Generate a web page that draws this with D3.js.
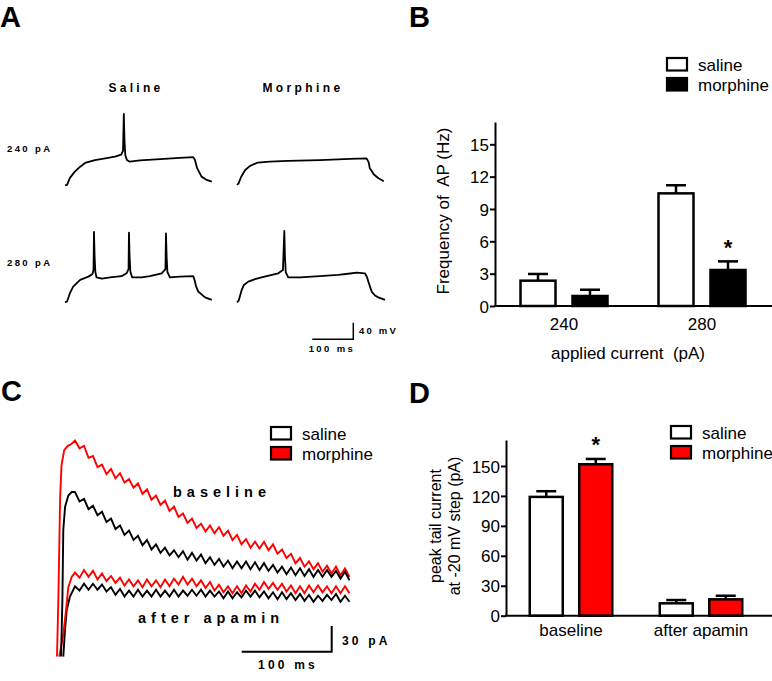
<!DOCTYPE html>
<html>
<head>
<meta charset="utf-8">
<script src="https://cdn.jsdelivr.net/npm/d3@7"></script>
<style>
body { margin: 0; background: #fff; }
text { font-family: "Liberation Sans", Arial, sans-serif; fill: #000; white-space: pre; }
</style>
</head>
<body>
<script>
// ---- panel A : membrane potential traces, [time ms, mV] ----
var sal240 = [[0,-71],[5,-70],[12,-53],[24,-38],[37,-26],[49,-17],[73,-10],[98,-6],[122,-2],[137,3],[141.5,12],[143.5,101],[145,40],[147,2],[151,-10],[158,-14],[183,-11],[232,-8],[280,-5],[313,-3],[317,-10],[322,-29],[333,-50],[344,-57],[358,-62]];
var mor240 = [[0,-70],[4,-66],[10,-51],[20,-34],[32,-24],[51,-16],[80,-14],[124,-12],[202,-10],[276,-7],[316,-6],[321,-15],[324,-30],[334,-45],[345,-54],[358,-61]];
var sal280 = [[0,-71],[5,-69],[12,-49],[20,-33],[37,-17],[57,-9],[67,-3],[69.5,7],[70.7,99],[72.2,40],[74,2],[77,-11],[90,-14],[110,-11],[138,-8],[150,-1],[155,9],[156,97],[157.5,40],[159.5,2],[164,-11],[187,-11],[207,-8],[236,-1],[245,9],[246.3,95],[247.8,40],[249.8,2],[256,-11],[280,-9],[313,-8],[316,-17],[319.5,-32],[325,-45],[341.5,-59],[358,-65]];
var mor280 = [[0,-71],[4,-67],[11.5,-41],[17,-29],[27.6,-21],[44,-15],[60,-11],[80,-6],[100.7,-1],[112,7],[115.4,101],[116.9,40],[118.8,2],[125,-11],[154,-11],[202,-8],[247,-5],[276,-1.5],[292,0.4],[312,-1],[317,-10],[320.7,-22],[328.5,-45],[336.6,-54.5],[344.6,-59],[361,-65]];
var rowsA = ["240 pA", "280 pA"];
var colsA = ["Saline", "Morphine"];

// ---- panel B : AP frequency (Hz) ----
var groupsB = ["240", "280"];
var salineB = [2.35, 10.45];
var salineBerr = [0.62, 0.75];
var morphineB = [0.93, 3.34];
var morphineBerr = [0.58, 0.8];
var ticksB = [0, 3, 6, 9, 12, 15];

// ---- panel C : tail current traces, [time ms, pA] rise then samples every 5 ms ----
var tC = d3.range(20, 326, 5);
var redBaseRise = [[0,-66],[1.5,0],[3.5,120],[5,157],[8,175],[12,180],[16,182]];
var redBase = [186,177,180,166,168,155,158,147,153,142,148,137,141,131,136,124,129,117,122,111,116,104,109,97,101,90,95,84,89,80,87,78,85,75,81,70,76,65,71,61,68,60,68,58,65,54,59,49,54,43,49,39,45,36,43,33,40,31,39,29,37,27];
var blackBaseRise = [[4.5,-66],[6,0],[7,82],[9,109],[12.6,122],[16.3,126]];
var blackBase = [126,115,118,106,110,99,103,91,95,83,87,76,81,70,75,64,70,59,65,55,61,52,58,50,57,47,55,46,53,43,50,41,48,39,46,37,45,37,45,36,44,35,43,34,41,32,39,30,38,29,37,28,36,27,35,27,35,27,34,25,33,23];
var redApaRise = [[2.5,-66],[7,-40],[10,-12],[12.6,15],[16.3,27]];
var redApa = [32,26,35,27,34,24,31,22,28,20,26,17,24,16,23,15,24,16,23,15,24,16,25,18,27,18,25,16,23,14,21,11,18,9,16,8,16,8,17,10,19,12,21,13,20,12,19,10,17,8,16,8,17,9,17,9,16,8,16,8,16,8];
var blackApaRise = [[7,-66],[8.9,-35],[10.8,-12],[14.4,4]];
var blackApa = [16,11,19,12,19,12,18,10,15,6,13,4,11,4,12,4,11,4,12,4,11,4,12,4,11,5,12,5,12,4,11,4,10,2,10,2,9,3,11,4,11,3,10,2,9,1,9,1,8,0,7,-1,6,-2,5,-1,6,0,7,-2,5,-2];

// ---- panel D : peak tail current (pA) ----
var groupsD = ["baseline", "after apamin"];
var salineD = [119, 12.4];
var salineDerr = [5.7, 3.3];
var morphineD = [151.7, 16.4];
var morphineDerr = [5.3, 3.6];
var ticksD = [0, 30, 60, 90, 120, 150];

var svg = d3.select("body").append("svg")
    .attr("width", 772)
    .attr("height", 681);

function label(x, y, s, size, weight, spacing, anchor) {
    return svg.append("text")
        .attr("x", x).attr("y", y)
        .attr("font-size", size)
        .attr("font-weight", weight || "normal")
        .attr("letter-spacing", spacing || 0)
        .attr("text-anchor", anchor || "start")
        .text(s);
}

// panel letters
label(0, 27, "A", 29, "bold");
label(409, 27, "B", 29, "bold");
label(1, 401, "C", 29, "bold");
label(409, 403, "D", 29, "bold");

// ================= A =================
var xA = [d3.scaleLinear().domain([0, 360]).range([65, 212.6]),
          d3.scaleLinear().domain([0, 360]).range([237, 384.6])];
var yA = [d3.scaleLinear().domain([-75, 100]).range([187, 114.4]),
          d3.scaleLinear().domain([-75, 100]).range([304, 231.4])];
var tracesA = [[sal240, mor240], [sal280, mor280]];

tracesA.forEach(function(row, r) {
    row.forEach(function(tr, c) {
        var line = d3.line()
            .x(function(d) { return xA[c](d[0]); })
            .y(function(d) { return yA[r](d[1]); });
        svg.append("path")
            .attr("d", line(tr))
            .attr("fill", "none")
            .attr("stroke", "#000")
            .attr("stroke-width", 1.8)
            .attr("stroke-linejoin", "round");
    });
});
label(136, 92, colsA[0], 12, "bold", 3.3, "middle");
label(303, 92, colsA[1], 12, "bold", 3.4, "middle");
label(7, 152, rowsA[0], 9.5, "bold", 2.4);
label(7, 266, rowsA[1], 9.5, "bold", 2.4);

// scale bar A
var sbAx = 353.3, sbAy = 339.3;
var sbAw = xA[1](100) - xA[1](0), sbAh = yA[1](0) - yA[1](40);
svg.append("path")
    .attr("d", "M" + (sbAx - sbAw) + "," + sbAy + "H" + sbAx + "V" + (sbAy - sbAh))
    .attr("fill", "none").attr("stroke", "#000").attr("stroke-width", 1.5);
label(359, 334, "40 mV", 9.5, "bold", 2.2);
label(332, 352, "100 ms", 9.5, "bold", 2.4, "middle");

// ================= bar chart helper =================
function barChart(o) {
    var g = svg.append("g");
    var x = d3.scalePoint().domain(o.groups).range(o.xr).padding(0.5);
    var inner = d3.scaleBand().domain(["saline", "morphine"])
        .range([-o.half, o.half]).paddingInner(o.pad);
    var y = o.y;
    var series = [
        {key: "saline", vals: o.sal, err: o.salErr, fill: "#fff"},
        {key: "morphine", vals: o.mor, err: o.morErr, fill: o.morFill}
    ];
    series.forEach(function(s) {
        var bars = g.selectAll(null).data(o.groups).enter();
        bars.append("line")
            .attr("x1", function(d) { return x(d) + inner(s.key) + inner.bandwidth() / 2; })
            .attr("x2", function(d) { return x(d) + inner(s.key) + inner.bandwidth() / 2; })
            .attr("y1", function(d, i) { return y(s.vals[i]); })
            .attr("y2", function(d, i) { return y(s.vals[i] + s.err[i]); })
            .attr("stroke", "#000").attr("stroke-width", 2.5);
        bars.append("line")
            .attr("x1", function(d) { return x(d) + inner(s.key) + inner.bandwidth() / 2 - 10; })
            .attr("x2", function(d) { return x(d) + inner(s.key) + inner.bandwidth() / 2 + 10; })
            .attr("y1", function(d, i) { return y(s.vals[i] + s.err[i]); })
            .attr("y2", function(d, i) { return y(s.vals[i] + s.err[i]); })
            .attr("stroke", "#000").attr("stroke-width", 2.5);
        bars.append("rect")
            .attr("x", function(d) { return x(d) + inner(s.key); })
            .attr("width", inner.bandwidth())
            .attr("y", function(d, i) { return y(s.vals[i]); })
            .attr("height", function(d, i) { return y(0) - y(s.vals[i]); })
            .attr("fill", s.fill).attr("stroke", "#000").attr("stroke-width", 2.5);
    });
    var ax = g.append("g")
        .attr("transform", "translate(" + o.x0 + ",0)")
        .call(d3.axisLeft(y).tickValues(o.ticks).tickSize(5).tickSizeOuter(0).tickPadding(1));
    ax.select(".domain").attr("stroke-width", 2);
    ax.selectAll(".tick line").attr("stroke-width", 2);
    ax.selectAll(".tick text").attr("font-size", 17).attr("font-family", "Liberation Sans, Arial, sans-serif").attr("dy", "0.36em");
    g.append("line")
        .attr("x1", o.x0 - 1).attr("x2", 772)
        .attr("y1", y(0)).attr("y2", y(0))
        .attr("stroke", "#000").attr("stroke-width", 2);
    g.selectAll(null).data(o.groups).enter().append("text")
        .attr("x", function(d) { return x(d); })
        .attr("y", o.catY)
        .attr("text-anchor", "middle")
        .attr("font-size", 17)
        .text(function(d) { return d; });
    return {x: x, inner: inner, y: y};
}

function legend(x, y, morFill) {
    [["saline", "#fff"], ["morphine", morFill]].forEach(function(d, i) {
        svg.append("rect")
            .attr("x", x).attr("y", y + i * 20)
            .attr("width", 20).attr("height", 12.5)
            .attr("fill", d[1]).attr("stroke", "#000").attr("stroke-width", 2.2);
        label(x + 31, y + 13 + i * 20, d[0], 17);
    });
}

// ================= B =================
var yB = d3.scaleLinear().domain([0, 17.07]).range([306, 122]);
var B = barChart({groups: groupsB, xr: [495, 771], half: 43.5, pad: 0.327, y: yB,
    sal: salineB, salErr: salineBerr, mor: morphineB, morErr: morphineBerr,
    morFill: "#000", x0: 495, ticks: ticksB, catY: 330});
label(B.x("280") + B.inner("morphine") + B.inner.bandwidth() / 2, 255, "*", 22, "bold", 0, "middle");
label(628, 359, "applied current  (pA)", 17, "normal", 0, "middle");
svg.append("text")
    .attr("transform", "translate(449,211) rotate(-90)")
    .attr("text-anchor", "middle").attr("font-size", 17)
    .text("Frequency of  AP (Hz)");
legend(667, 58, "#000");

// ================= C =================
var xC = d3.scaleLinear().domain([0, 330]).range([57, 354]);
var yC = d3.scaleLinear().domain([-70, 190]).range([660, 437.2]);
var lineC = d3.line().x(function(d) { return xC(d[0]); }).y(function(d) { return yC(d[1]); });
function joinC(rise, vals) {
    return rise.concat(tC.map(function(t, i) { return [t, vals[i]]; }));
}
[[joinC(blackApaRise, blackApa), "#000"],
 [joinC(redApaRise, redApa), "#f00"],
 [joinC(redBaseRise, redBase), "#f00"],
 [joinC(blackBaseRise, blackBase), "#000"]].forEach(function(d) {
    svg.append("path")
        .attr("d", lineC(d[0]))
        .attr("fill", "none")
        .attr("stroke", d[1])
        .attr("stroke-width", 1.9)
        .attr("stroke-linejoin", "miter");
});
label(173, 497, "baseline", 14.5, "bold", 5);
label(138, 623, "after apamin", 14.5, "bold", 5);
var sbCx = 331.7, sbCy = 651.7;
var sbCw = xC(100) - xC(0), sbCh = yC(0) - yC(30);
svg.append("path")
    .attr("d", "M" + (sbCx - sbCw) + "," + sbCy + "H" + sbCx + "V" + (sbCy - sbCh))
    .attr("fill", "none").attr("stroke", "#000").attr("stroke-width", 2);
label(342, 645, "30 pA", 12, "bold", 3.2);
label(288, 669, "100 ms", 12, "bold", 3.2, "middle");
legend(271, 427, "#f00");

// ================= D =================
var yD = d3.scaleLinear().domain([0, 176]).range([615.7, 440]);
var D = barChart({groups: groupsD, xr: [506, 766], half: 41.25, pad: 0.333, y: yD,
    sal: salineD, salErr: salineDerr, mor: morphineD, morErr: morphineDerr,
    morFill: "#f00", x0: 506, ticks: ticksD, catY: 636});
label(D.x("baseline") + D.inner("morphine") + D.inner.bandwidth() / 2, 452, "*", 22, "bold", 0, "middle");
svg.append("text")
    .attr("transform", "translate(441,526) rotate(-90)")
    .attr("text-anchor", "middle").attr("font-size", 16)
    .text("peak tail current");
svg.append("text")
    .attr("transform", "translate(460,526) rotate(-90)")
    .attr("text-anchor", "middle").attr("font-size", 16)
    .text("at -20 mV step (pA)");
legend(671, 426, "#f00");
</script>
</body>
</html>
